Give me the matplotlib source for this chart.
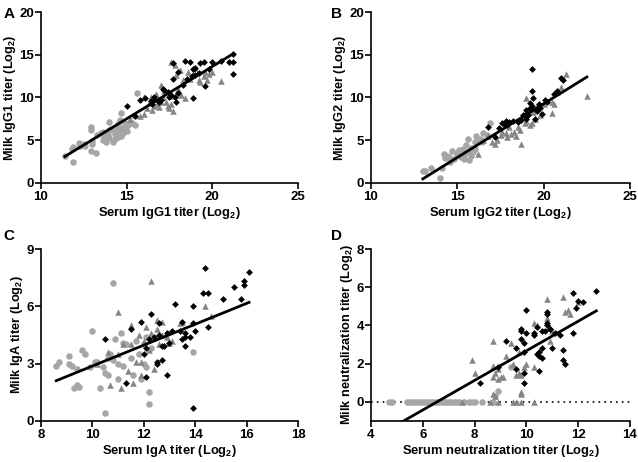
import matplotlib.pyplot as plt
import numpy as np

plt.rcParams["font.family"] = ["Liberation Sans", "DejaVu Sans"]
plt.rcParams["font.weight"] = "bold"
plt.rcParams["mathtext.fontset"] = "custom"
plt.rcParams["mathtext.bf"] = "Liberation Sans:bold"
plt.rcParams["mathtext.rm"] = "Liberation Sans:bold"
plt.rcParams["mathtext.default"] = "bf"

# ---- panel A: IgG1 ----
a_circ_x = [11.4, 11.9, 11.9, 12.2, 12.5, 12.6, 12.9, 12.9, 12.9, 13.0, 13.2, 13.0, 13.3, 13.5, 13.6, 13.6,
            13.8, 13.9, 14.0, 14.0, 14.2, 14.2, 14.3, 14.4, 14.4, 14.5, 14.5, 14.6, 14.6, 14.7, 14.7, 14.8,
            14.8, 14.9, 14.9, 14.7, 15.0, 14.3, 14.1, 15.1, 15.3, 15.5, 15.6, 14.6, 14.0, 12.3, 11.8, 13.7]
a_circ_y = [3.1, 2.5, 4.2, 4.7, 4.5, 4.3, 6.6, 6.2, 3.7, 4.9, 3.5, 4.5, 5.6, 5.8, 6.0, 5.0,
            4.8, 5.6, 7.1, 5.3, 4.8, 6.2, 5.7, 6.0, 6.5, 5.4, 6.9, 5.8, 6.3, 6.0, 5.5, 6.4,
            5.9, 6.6, 7.0, 8.2, 6.1, 5.2, 6.3, 6.8, 7.0, 6.8, 10.5, 7.4, 6.2, 4.3, 4.0, 5.4]
a_tri_x = [15.2, 15.5, 15.8, 16.0, 16.2, 16.0, 16.4, 16.5, 16.6, 16.8, 16.9, 17.0, 17.1, 17.0, 17.3, 17.4,
           17.5, 17.6, 17.7, 17.6, 17.8, 17.9, 18.0, 18.2, 18.3, 18.4, 18.6, 18.7, 18.9, 19.2, 19.3, 19.5,
           19.6, 19.7, 19.8, 20.0, 20.5, 18.1, 17.2, 16.3, 17.6, 19.0, 16.7]
a_tri_y = [7.5, 8.0, 7.8, 8.1, 8.8, 10.0, 10.0, 8.5, 9.0, 9.2, 8.9, 9.5, 10.1, 11.5, 9.5, 9.0,
           8.8, 9.2, 8.4, 14.2, 13.8, 12.6, 11.0, 10.3, 12.0, 9.9, 13.0, 12.2, 12.7, 12.1, 11.8, 12.5,
           13.0, 12.0, 12.8, 13.0, 11.9, 13.2, 10.8, 9.3, 10.2, 13.5, 10.4]
a_dia_x = [15.0, 15.5, 15.8, 16.1, 16.4, 16.5, 16.6, 17.0, 17.2, 17.4, 17.6, 17.7, 17.8, 17.9, 17.7, 18.0,
           18.3, 18.4, 18.7, 18.9, 19.0, 19.3, 19.5, 19.6, 19.2, 18.8, 18.9, 19.8, 20.0, 20.5, 21.0, 21.2,
           21.2, 21.2, 17.5, 18.5, 19.0, 17.1, 16.9, 18.0]
a_dia_y = [9.0, 7.8, 9.7, 9.9, 9.6, 9.2, 10.1, 9.7, 10.9, 10.6, 10.3, 12.2, 10.0, 9.5, 14.0, 10.5,
           11.5, 14.3, 14.2, 13.3, 13.4, 14.0, 14.1, 11.4, 12.9, 12.5, 9.9, 13.3, 14.1, 14.3, 14.1, 15.1,
           12.7, 14.1, 10.0, 12.2, 12.6, 11.0, 9.5, 13.0]
a_fit = (1.224, -10.86)

# ---- panel B: IgG2 ----
b_circ_x = [13.0, 13.1, 13.5, 14.0, 14.1, 14.2, 14.3, 14.4, 14.5, 14.7, 14.8, 15.0, 15.0, 15.2, 15.3, 15.4,
            15.4, 15.5, 15.6, 15.6, 15.8, 15.8, 15.9, 16.0, 16.0, 16.1, 16.2, 16.3, 16.4, 15.7, 16.9, 16.7,
            14.6, 15.1, 16.5]
b_circ_y = [1.4, 1.4, 1.8, 0.6, 1.8, 3.4, 2.9, 3.2, 3.0, 3.7, 2.8, 3.5, 3.3, 3.0, 4.0, 2.8,
            3.3, 4.4, 3.6, 5.1, 3.2, 4.1, 3.6, 4.0, 4.8, 5.5, 5.0, 5.2, 4.8, 2.7, 7.0, 5.6,
            2.5, 3.9, 5.8]
b_tri_x = [16.2, 16.5, 16.8, 17.0, 17.2, 17.3, 17.5, 17.6, 17.8, 18.0, 18.1, 18.3, 18.4, 18.6, 18.7, 18.9,
           19.0, 19.2, 19.3, 19.5, 19.3, 19.0, 19.6, 19.8, 20.0, 20.5, 20.5, 20.8, 21.0, 21.3, 22.5, 20.6,
           19.4, 18.5, 17.9]
b_tri_y = [3.4, 5.0, 5.5, 4.8, 4.5, 5.0, 5.6, 6.0, 5.9, 6.5, 5.7, 6.0, 5.5, 6.2, 4.5, 7.0,
           7.2, 6.8, 7.0, 7.5, 8.5, 9.9, 9.0, 8.0, 9.2, 9.5, 8.2, 10.6, 11.2, 12.7, 10.2, 9.2,
           8.3, 6.6, 5.4]
b_dia_x = [16.8, 17.2, 17.4, 17.6, 17.8, 17.9, 18.0, 17.7, 18.5, 18.7, 18.8, 18.9, 19.0, 19.1, 19.2, 19.3,
           19.3, 19.3, 19.4, 19.5, 19.6, 19.7, 19.8, 19.9, 20.1, 20.2, 20.6, 20.8, 21.0, 21.1, 19.0, 18.2,
           19.2]
b_dia_y = [6.5, 5.4, 6.4, 7.0, 7.3, 6.8, 7.1, 6.9, 7.1, 7.4, 8.0, 7.9, 8.5, 7.9, 9.3, 9.0,
           13.3, 10.8, 9.9, 7.5, 8.4, 9.2, 8.8, 8.1, 9.7, 9.5, 10.4, 10.7, 12.3, 12.0, 7.5, 7.2,
           8.8]
b_fit = (1.255, -15.84)

# ---- panel C: IgA ----
c_circ_x = [8.6, 8.7, 9.1, 9.1, 9.2, 9.3, 9.4, 9.4, 9.6, 9.7, 9.9, 10.0, 10.1, 10.2, 10.3, 10.4,
            10.5, 10.5, 10.6, 10.6, 10.8, 10.8, 10.9, 11.0, 11.0, 11.1, 11.2, 11.3, 11.5, 11.6, 11.7, 11.8,
            11.9, 12.0, 12.0, 12.1, 12.2, 12.2, 12.1, 12.3, 13.9, 10.7, 9.5, 11.2]
c_circ_y = [2.9, 3.1, 3.4, 3.0, 2.9, 1.7, 1.9, 2.7, 3.7, 3.5, 2.8, 4.7, 3.1, 3.1, 1.7, 2.8,
            2.5, 0.4, 3.3, 2.4, 7.2, 3.2, 4.3, 3.0, 2.2, 4.6, 4.1, 4.0, 3.3, 2.4, 4.2, 3.5,
            2.2, 4.0, 3.0, 2.8, 1.5, 0.9, 4.4, 3.8, 3.6, 3.5, 1.8, 2.9]
c_tri_x = [10.2, 10.6, 10.7, 11.0, 11.0, 11.1, 11.2, 11.4, 11.5, 11.6, 11.7, 11.8, 11.9, 11.9, 12.0, 12.1,
           12.2, 12.3, 12.3, 12.4, 12.5, 12.6, 12.7, 12.7, 12.9, 13.0, 13.1, 13.4, 13.5, 14.4, 14.6, 11.5,
           12.5]
c_tri_y = [3.0, 3.6, 1.9, 5.7, 3.5, 1.7, 4.0, 2.6, 4.0, 2.0, 3.1, 4.5, 3.1, 2.4, 4.2, 4.9,
           3.7, 7.3, 4.6, 2.7, 5.3, 4.0, 5.2, 4.5, 4.4, 4.1, 4.2, 5.1, 5.2, 6.0, 5.5, 5.0,
           4.8]
c_dia_x = [10.5, 11.3, 11.5, 11.9, 12.0, 12.1, 12.2, 12.3, 12.4, 12.5, 12.5, 12.6, 12.6, 12.7, 12.7, 12.8,
           12.9, 12.9, 13.0, 13.1, 13.2, 13.4, 13.5, 13.5, 13.6, 13.6, 13.6, 13.8, 13.9, 13.9, 13.9, 14.0,
           14.3, 14.4, 14.5, 14.5, 15.1, 15.5, 15.8, 15.9, 15.9, 16.1, 12.1]
c_dia_y = [4.3, 2.0, 4.8, 5.2, 3.5, 2.3, 4.3, 5.6, 4.4, 3.0, 3.1, 5.1, 4.5, 3.2, 3.9, 3.9,
           2.4, 4.6, 4.1, 4.7, 6.1, 4.7, 4.3, 5.2, 4.4, 3.9, 4.6, 4.4, 6.0, 5.1, 0.7, 4.7,
           6.7, 8.0, 6.7, 4.9, 6.4, 7.0, 6.4, 7.3, 7.1, 7.8, 3.8]
c_fit = (0.547, -2.60)

# ---- panel D: neutralization ----
d_circ_x = [4.7, 4.8, 5.4, 5.5, 5.6, 5.7, 5.8, 5.9, 6.0, 6.1, 6.2, 6.3, 6.4, 6.5, 6.6, 6.7,
            6.8, 6.9, 7.0, 7.1, 7.2, 7.3, 7.4, 7.6, 7.8, 7.9, 8.0, 8.3, 8.9, 9.4, 8.8, 8.7]
d_circ_y = [0.0, 0.0, 0.0, 0.0, 0.0, 0.0, 0.0, 0.0, 0.0, 0.0, 0.0, 0.0, 0.0, 0.0, 0.0, 0.0,
            0.0, 0.0, 0.0, 0.0, 0.0, 0.0, 0.0, 0.0, 0.0, 0.0, 0.0, 0.0, 0.55, 1.8, 0.3, 0.0]
d_tri_x = [7.9, 8.0, 8.7, 8.7, 8.7, 8.7, 8.8, 8.8, 8.9, 8.9, 9.0, 9.1, 9.2, 9.4, 9.5, 9.6,
           9.7, 9.8, 9.8, 9.8, 9.9, 10.0, 10.3, 10.3, 10.4, 10.8, 10.8, 10.9, 10.8, 11.4, 11.5, 11.6,
           11.7, 12.0, 8.6, 8.9, 9.6, 9.8, 10.3, 7.5, 9.5, 9.7, 11.0]
d_tri_y = [2.2, 1.5, 3.2, 1.9, 1.3, 0.4, 0.3, 1.5, 1.7, 1.2, 1.3, 1.3, 2.4, 3.1, 2.0, 1.4,
           2.6, 1.4, 0.5, 0.4, 1.8, 2.0, 1.8, 4.1, 4.0, 4.4, 4.2, 3.2, 5.4, 5.5, 4.7, 4.8,
           4.6, 5.2, 0.0, 0.0, 0.0, 0.0, 0.0, 0.0, 0.0, 1.5, 3.7]
d_dia_x = [8.2, 8.9, 9.2, 9.6, 9.6, 9.8, 9.8, 9.8, 9.9, 9.9, 9.9, 9.9, 10.0, 10.0, 10.3, 10.3,
           10.4, 10.5, 10.5, 10.6, 10.5, 10.6, 10.7, 10.8, 10.8, 10.8, 10.8, 10.9, 10.9, 11.0, 11.1, 11.3,
           11.4, 11.4, 11.5, 11.8, 11.8, 11.9, 12.0, 12.2, 12.7, 10.6, 10.4]
d_dia_y = [1.0, 1.8, 3.2, 2.8, 1.7, 3.8, 3.7, 3.3, 2.6, 3.1, 1.5, 1.0, 4.8, 3.6, 3.6, 3.5,
           3.9, 2.6, 2.4, 2.3, 1.6, 3.7, 3.7, 4.7, 4.6, 4.1, 4.0, 3.8, 3.8, 2.8, 3.6, 3.5,
           2.7, 2.2, 2.0, 5.7, 3.6, 4.9, 5.3, 5.2, 5.8, 2.8, 2.5]
d_fit = (0.775, -5.08)

panels = [
    ("A", [0.064, 0.604, 0.403, 0.370], (a_circ_x, a_circ_y), (a_tri_x, a_tri_y), (a_dia_x, a_dia_y), a_fit,
     (10, 25), [10, 15, 20, 25], (0, 20), [0, 5, 10, 15, 20],
     "Serum IgG1 titer (Log$_2$)", "Milk IgG1 titer (Log$_2$)"),
    ("B", [0.5815, 0.604, 0.406, 0.370], (b_circ_x, b_circ_y), (b_tri_x, b_tri_y), (b_dia_x, b_dia_y), b_fit,
     (10, 25), [10, 15, 20, 25], (0, 20), [0, 5, 10, 15, 20],
     "Serum IgG2 titer (Log$_2$)", "Milk IgG2 titer (Log$_2$)"),
    ("C", [0.064, 0.089, 0.403, 0.372], (c_circ_x, c_circ_y), (c_tri_x, c_tri_y), (c_dia_x, c_dia_y), c_fit,
     (8, 18), [8, 10, 12, 14, 16, 18], (0, 9), [0, 3, 6, 9],
     "Serum IgA titer (Log$_2$)", "Milk IgA titer (Log$_2$)"),
    ("D", [0.5815, 0.089, 0.406, 0.372], (d_circ_x, d_circ_y), (d_tri_x, d_tri_y), (d_dia_x, d_dia_y), d_fit,
     (4, 14), [4, 6, 8, 10, 12, 14], (-1, 8), [0, 2, 4, 6, 8],
     "Serum neutralization titer (Log$_2$)", "Milk neutralization titer (Log$_2$)"),
]

fig = plt.figure(figsize=(6.38, 4.62), dpi=100)

for letter, rect, circ, tri, dia, fit, xlim, xticks, ylim, yticks, xlab, ylab in panels:
    ax = fig.add_axes(rect)
    if letter == "D":
        ax.axhline(0, color="black", linestyle=(0, (1, 2.5)), linewidth=1.2, zorder=1)
    ax.scatter(circ[0], circ[1], s=22, marker="o", color="#a6a6a6", linewidths=0, zorder=2)
    ax.scatter(tri[0], tri[1], s=22, marker="^", color="#858585", linewidths=0, zorder=3)
    ax.scatter(dia[0], dia[1], s=12, marker="D", color="black", linewidths=0, zorder=4)
    allx = np.array(circ[0] + tri[0] + dia[0])
    xs = np.array([allx.min(), allx.max()])
    ax.plot(xs, fit[0] * xs + fit[1], color="black", linewidth=2.0, zorder=5)

    ax.set_xlim(*xlim)
    ax.set_ylim(*ylim)
    ax.set_xticks(xticks)
    ax.set_yticks(yticks)
    ax.set_xlabel(xlab, fontsize=9.3, fontweight="bold", labelpad=2)
    ax.set_ylabel(ylab, fontsize=9.2, fontweight="bold", labelpad=1)
    ax.spines["top"].set_visible(False)
    ax.spines["right"].set_visible(False)
    for s in ("left", "bottom"):
        ax.spines[s].set_linewidth(1.2)
    ax.tick_params(direction="out", length=4, width=1.2, labelsize=9.5, pad=1.5)
    ax.tick_params(axis="y", pad=1)
    for lab in ax.get_xticklabels() + ax.get_yticklabels():
        lab.set_fontweight("bold")

fig.text(0.005, 0.985, "A", fontsize=11, fontweight="bold", va="top")
fig.text(0.519, 0.985, "B", fontsize=11, fontweight="bold", va="top")
fig.text(0.005, 0.505, "C", fontsize=11, fontweight="bold", va="top")
fig.text(0.519, 0.505, "D", fontsize=11, fontweight="bold", va="top")

fig.savefig("out.png", dpi=100)
